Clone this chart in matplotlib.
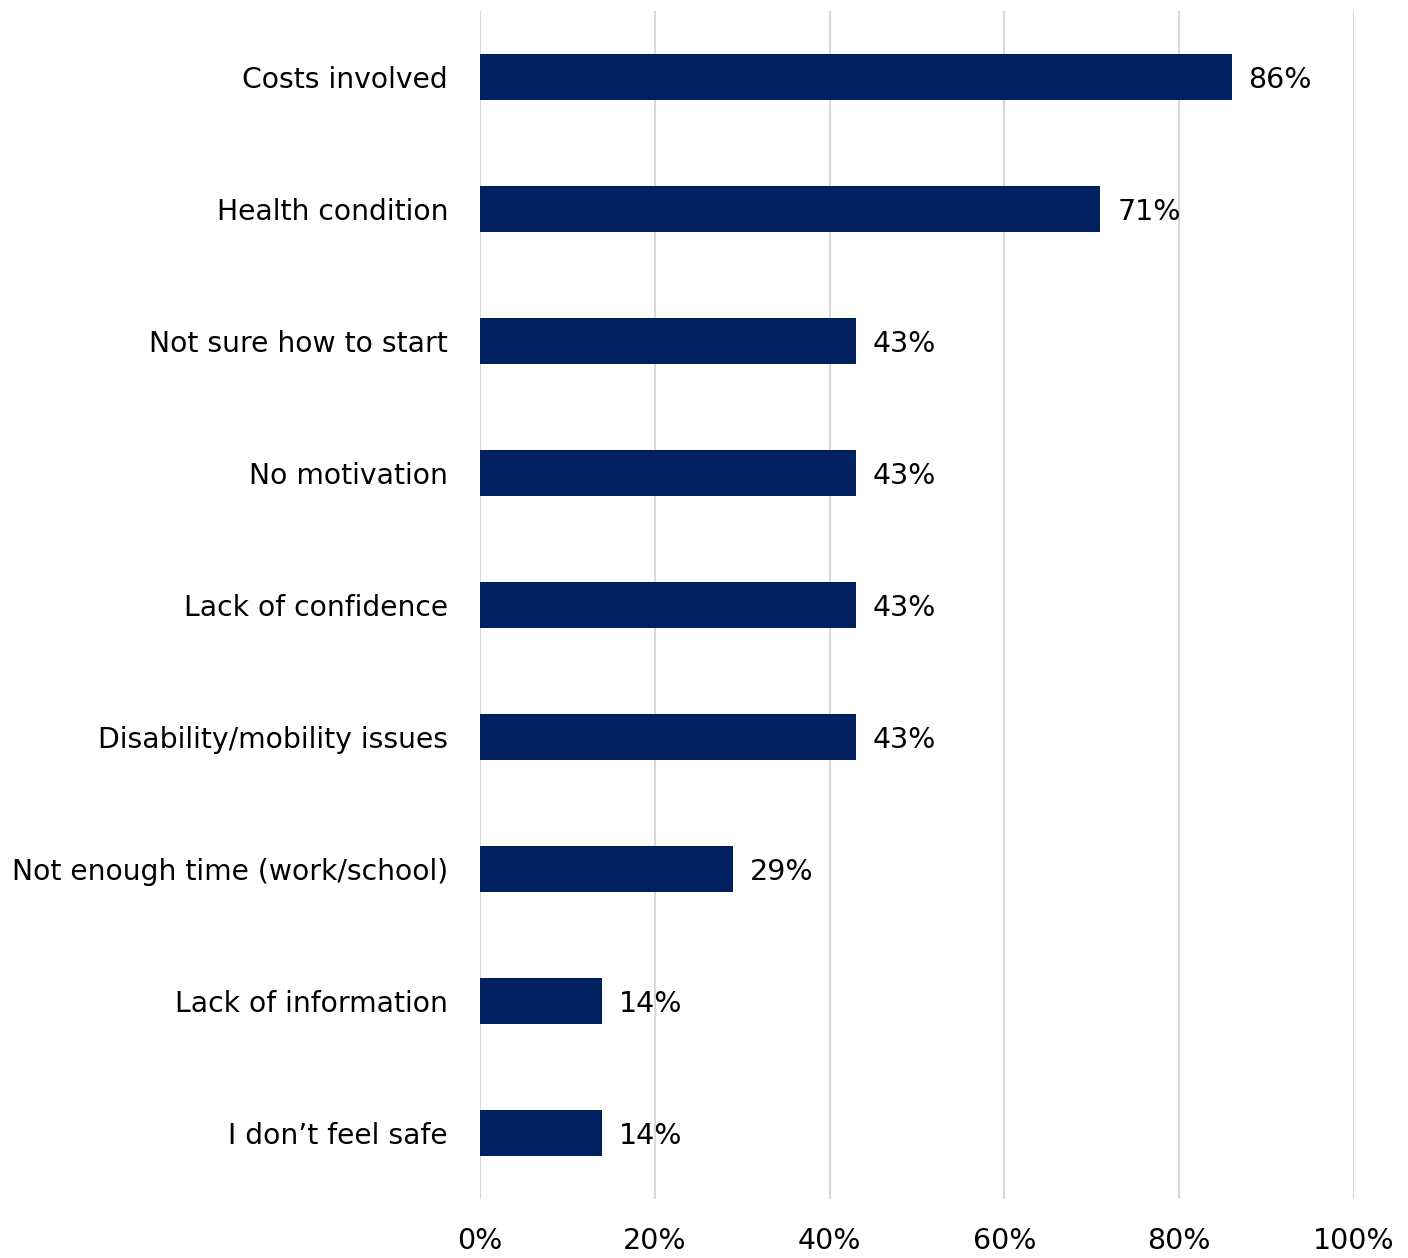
import matplotlib
matplotlib.use("Agg")
import matplotlib.pyplot as plt
from matplotlib.ticker import PercentFormatter

# data
categories = ["Costs involved", "Health condition", "Not sure how to start",
              "No motivation", "Lack of confidence", "Disability/mobility issues",
              "Not enough time (work/school)", "Lack of information",
              "I don\u2019t feel safe"]
values = [86, 71, 43, 43, 43, 43, 29, 14, 14]
xticks = [0, 20, 40, 60, 80, 100]

fig = plt.figure(figsize=(14.08, 12.58), dpi=100)
ax = fig.add_axes([0.3409, 0.0469, 0.6207, 0.9444])

ypos = list(range(len(categories)))
bars = ax.barh(ypos, values, height=0.35, color="#002060", zorder=3)

ax.set_ylim(len(categories) - 0.5, -0.5)
ax.set_xlim(0, 100)
ax.set_yticks(ypos)
ax.set_yticklabels(categories, fontsize=20.3)
ax.set_xticks(xticks)
ax.xaxis.set_major_formatter(PercentFormatter(decimals=0))
ax.tick_params(axis="x", labelsize=20.5, length=0, pad=20)
ax.tick_params(axis="y", length=0, pad=23)

ax.grid(axis="x", color="#d9d9d9", linewidth=1.5, zorder=0)
for s in ax.spines.values():
    s.set_visible(False)

for rect, v in zip(bars, values):
    ax.annotate(f"{v}%", (rect.get_width(), rect.get_y() + rect.get_height() / 2),
                xytext=(12, -2), textcoords="offset points",
                va="center", ha="left", fontsize=20.5)

fig.savefig("out.png", dpi=100)
